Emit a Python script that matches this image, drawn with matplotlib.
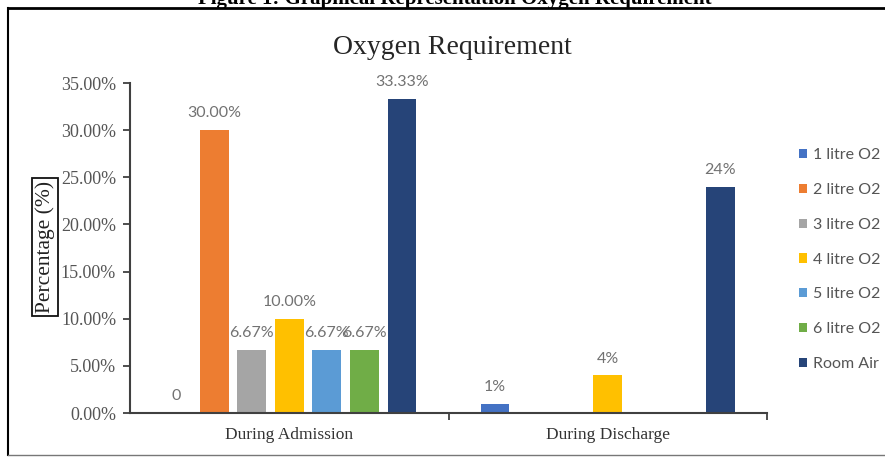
import numpy as np
import matplotlib
matplotlib.use("Agg")
import matplotlib.pyplot as plt
from matplotlib.lines import Line2D
from matplotlib.ticker import FuncFormatter, MultipleLocator

# Share of patients (%) by oxygen requirement
categories = ["During Admission", "During Discharge"]
series = ["1 litre O2", "2 litre O2", "3 litre O2", "4 litre O2",
          "5 litre O2", "6 litre O2", "Room Air"]
admission = [0.0, 30.00, 6.67, 10.00, 6.67, 6.67, 33.33]
discharge = [1.0, np.nan, np.nan, 4.0, np.nan, np.nan, 24.0]
colors = ["#4472C4", "#ED7D31", "#A5A5A5", "#FFC000",
          "#5B9BD5", "#70AD47", "#264478"]
label_decimals = [2, 0]  # admission labels show two decimals, discharge none

serif = "Liberation Serif"
sans = "Lato"

fig = plt.figure(figsize=(8.85, 4.57), dpi=100)
ax = fig.add_axes([130 / 885, 1 - 413 / 457, 637 / 885, 330 / 457])

slot = 0.118
width = 0.091
x = np.arange(len(categories))
values = np.array([admission, discharge])  # shape (category, series)

for i, (name, col) in enumerate(zip(series, colors)):
    pos = x + (i - 3) * slot
    vals = values[:, i]
    ax.bar(pos, vals, width=width, color=col, label=name, zorder=2)
    for c, (px, v) in enumerate(zip(pos, vals)):
        if np.isnan(v):
            continue
        if v == 0:
            txt = "0"
        else:
            txt = f"{v:.{label_decimals[c]}f}%"
        ax.annotate(txt, (px, v), xytext=(0, 7), textcoords="offset points",
                    ha="center", va="bottom", fontsize=11.5, family=sans,
                    color="#727272")

ax.set_xlim(-0.5, 1.5)
ax.set_ylim(0, 35)
ax.yaxis.set_major_locator(MultipleLocator(5))
ax.yaxis.set_major_formatter(FuncFormatter(lambda v, p: f"{v:.2f}%"))
ax.set_xticks([0.5, 1.5])
ax.set_xticklabels([])
ax.set_xticks(x, minor=True)
ax.set_xticklabels(categories, minor=True, family=serif, fontsize=12.5,
                   color="#333333")
ax.tick_params(axis="x", which="minor", length=0, pad=10)
ax.tick_params(axis="x", which="major", direction="out", length=5,
               width=1.3, color="#404040")
ax.tick_params(axis="y", direction="out", length=5, width=1.3,
               color="#404040", pad=5, labelsize=13, labelcolor="#555555")
for lab in ax.get_yticklabels():
    lab.set_family(serif)

for side in ["top", "right"]:
    ax.spines[side].set_visible(False)
for side in ["left", "bottom"]:
    ax.spines[side].set_color("#404040")
    ax.spines[side].set_linewidth(1.5)
ax.spines["bottom"].set_zorder(3)

# Boxed axis title
fig.text(45 / 885, 1 - 247 / 457, "Percentage (%)", rotation=90,
         ha="center", va="center", family=serif, fontsize=15.5, color="#222222",
         bbox=dict(boxstyle="square,pad=0.15", fc="white", ec="#111111", lw=1.3))

# Chart title
fig.text(452 / 885, 1 - 47 / 457, "Oxygen Requirement", ha="center",
         va="center", family=serif, fontsize=20, color="#262626")

# Figure caption above the frame
fig.text(455 / 885, 1 - 4 / 457, "Figure 1: Graphical Representation Oxygen Requirement",
         ha="center", va="baseline", family=serif, fontweight="bold",
         fontsize=15, color="black")

# Frame around the chart
frame = dict(transform=fig.transFigure, clip_on=False)
fig.add_artist(Line2D([8 / 885, 884 / 885], [1 - 8 / 457] * 2, color="black", lw=2, **frame))
fig.add_artist(Line2D([8 / 885] * 2, [1 - 8 / 457, 1 - 455 / 457], color="black", lw=1.5, **frame))
fig.add_artist(Line2D([8 / 885, 884 / 885], [1 - 455 / 457] * 2, color="#777777", lw=1, **frame))

leg = fig.legend(loc="upper left", bbox_to_anchor=(785 / 885, 1 - 134 / 457),
                 frameon=False, handlelength=0.5, handleheight=0.5,
                 handletextpad=0.35, labelspacing=1.3,
                 prop={"family": sans, "size": 11.5})
for t in leg.get_texts():
    t.set_color("#555555")

fig.savefig("out.png", dpi=100)
